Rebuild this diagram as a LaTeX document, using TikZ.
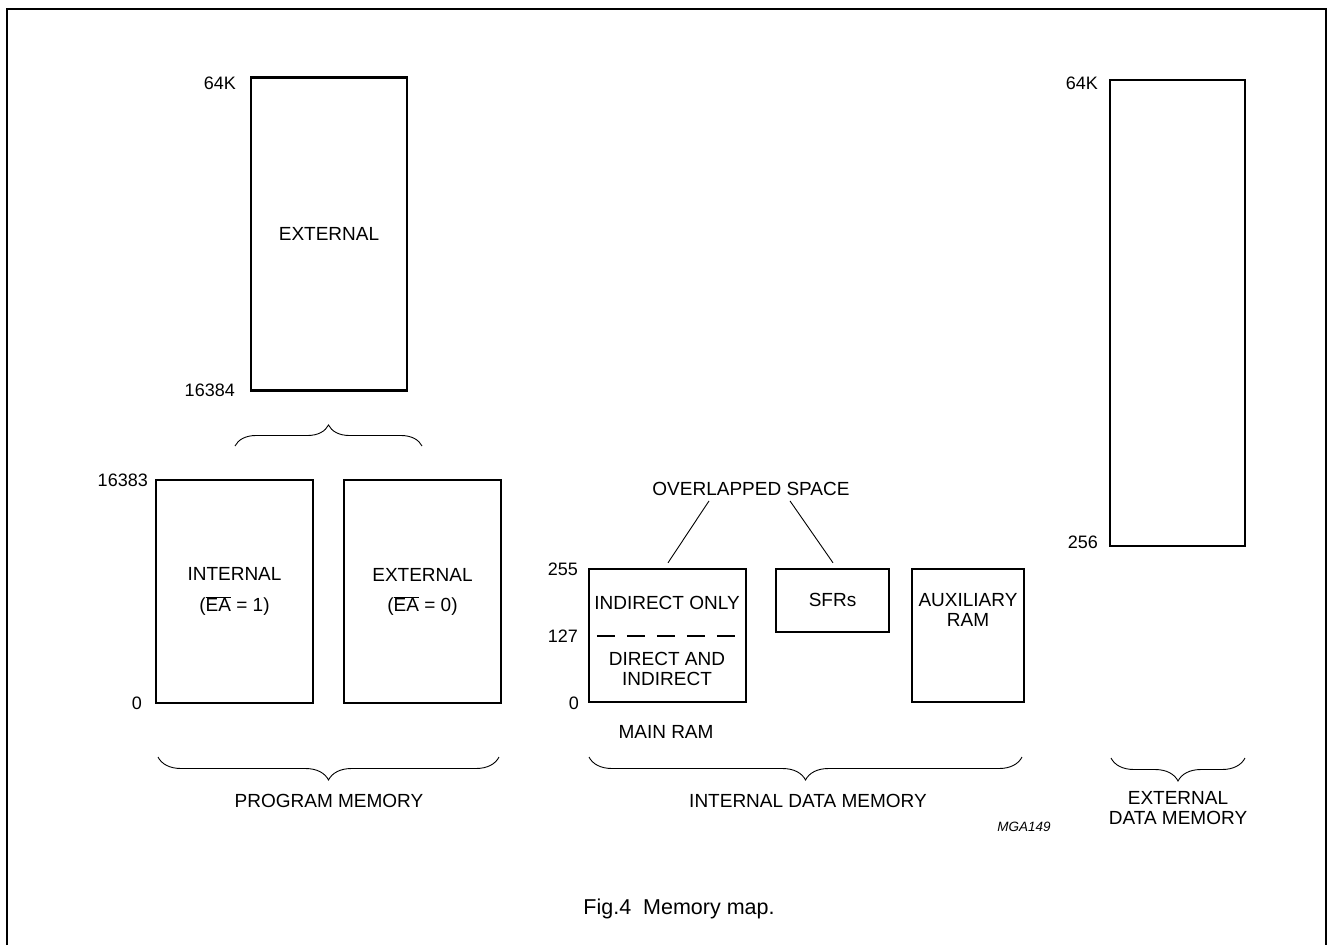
\documentclass[tikz,border=0pt]{standalone}
\usepackage{fontspec}
\setmainfont{Liberation Sans}
\usetikzlibrary{decorations.pathreplacing,calc}
\tikzset{
  membox/.style={draw, line width=2.4pt, inner sep=0pt},
  lbl/.style={inner sep=0pt, font=\fontsize{19}{20}\selectfont, align=center},
  numl/.style={inner sep=0pt, font=\fontsize{18}{20}\selectfont, anchor=east},
  brc/.style={decorate, decoration={brace, amplitude=#1}, line width=0.9pt},
  brc/.default=22pt,
  leader/.style={line width=0.9pt},
}
\begin{document}
\begin{tikzpicture}[x=1pt,y=-1pt]
\useasboundingbox (0,0) rectangle (1327,945);
% frame
\draw[line width=1.3pt] (7,945) -- (7,9) -- (1326,9) -- (1326,945);

% program memory
\node[membox, minimum width=156pt, minimum height=313pt] (pext) at (329,234) {};
\node[lbl] (pextl) at (329,234) {EXTERNAL};
\node[numl] (p64k) at (236,83) {64K};
\node[numl] (p16384) at (235,390) {16384};
\coordinate (b1l) at (235,446);
\coordinate (b1r) at (422,446);
\draw[brc=21pt] (b1l) -- (b1r);

\node[membox, minimum width=157pt, minimum height=223pt] (pint) at (234.5,591.5) {};
\node[lbl] (pintl) at (234.5,574) {INTERNAL};
\node[lbl] (pinte) at (234.5,606) {($\overline{\hbox{EA}}$ = 1)};
\node[membox, minimum width=157pt, minimum height=223pt] (pex2) at (422.5,591.5) {};
\node[lbl] (pex2l) at (422.5,575) {EXTERNAL};
\node[lbl] (pex2e) at (422.5,606) {($\overline{\hbox{EA}}$ = 0)};
\node[numl] (p16383) at (148,480) {16383};
\node[numl] (p0) at (142,703) {0};
\coordinate (b2l) at (158,757);
\coordinate (b2r) at (499,757);
\draw[brc=23pt] (b2r) -- (b2l);
\node[lbl] (pm) at (329,801) {PROGRAM MEMORY};

% internal data memory
\node[lbl] (ov) at (751,489) {OVERLAPPED SPACE};
\node[membox, minimum width=157pt, minimum height=133pt] (mram) at (667.5,635.5) {};
\node[lbl] (io) at (667,603) {INDIRECT ONLY};
\node[lbl] (di) at (667,668.5) {DIRECT AND\\INDIRECT};
\draw[line width=2pt, dash pattern=on 18pt off 12pt] ($(mram.west)+(9,0)$) -- ($(mram.east)+(-7,0)$);
\node[membox, minimum width=113pt, minimum height=63pt] (sfr) at (832.5,600.5) {};
\node[lbl] (sfrl) at (832.5,600) {SFRs};
\node[membox, minimum width=112pt, minimum height=133pt] (aux) at (968,635.5) {};
\node[lbl] (auxl) at (968,610) {AUXILIARY\\RAM};
\node[numl] (n255) at (578,569) {255};
\node[numl] (n127) at (578,636) {127};
\node[numl] (n0) at (579,703) {0};
\node[lbl] (mr) at (666,732) {MAIN RAM};
\draw[leader] ($(ov.south)+(-42,5)$) -- ($(mram.north)+(0.5,-5)$);
\draw[leader] ($(ov.south)+(39,5)$) -- ($(sfr.north)+(0.5,-5)$);
\coordinate (b3l) at (589,757);
\coordinate (b3r) at (1022,757);
\draw[brc=23pt] (b3r) -- (b3l);
\node[lbl] (idm) at (808,801) {INTERNAL DATA MEMORY};

% external data memory
\node[membox, minimum width=135pt, minimum height=466pt] (xd) at (1177.5,313) {};
\node[numl] (x64k) at (1098,83) {64K};
\node[numl] (x256) at (1098,542) {256};
\coordinate (b4l) at (1111,758);
\coordinate (b4r) at (1245,758);
\draw[brc=23pt] (b4r) -- (b4l);
\node[lbl] (xdm) at (1178,808.5) {EXTERNAL\\DATA MEMORY};

\node[inner sep=0pt, font=\fontsize{13.5}{15}\selectfont\itshape] (mga) at (1024,827) {MGA149};
\node[inner sep=0pt, font=\fontsize{21.5}{22}\selectfont, anchor=base] (cap) at (679,914) {Fig.4\ \ Memory map.};
\end{tikzpicture}
\end{document}
